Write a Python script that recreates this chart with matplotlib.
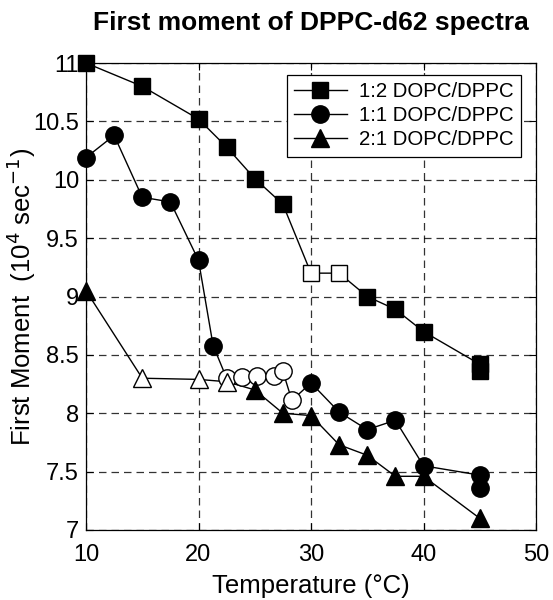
import matplotlib
matplotlib.use("Agg")
import matplotlib.pyplot as plt
import numpy as np

plt.rcParams['font.family'] = ['Liberation Sans', 'DejaVu Sans']

# Data: temperature (°C), first moment (10^4 sec^-1), open marker flags
sq_x = [10, 15, 20, 22.5, 25, 27.5, 30, 32.5, 35, 37.5, 40, 45, 45]
sq_y = [11.0, 10.80, 10.52, 10.28, 10.01, 9.79, 9.20, 9.20, 9.0, 8.89, 8.70, 8.42, 8.36]
sq_open = [0, 0, 0, 0, 0, 0, 1, 1, 0, 0, 0, 0, 0]

ci_x = [10, 12.5, 15, 17.5, 20, 21.3, 22.5, 23.9, 25.2, 26.7, 27.5, 28.3, 30, 32.5, 35, 37.5, 40, 45, 45]
ci_y = [10.19, 10.38, 9.85, 9.81, 9.31, 8.58, 8.30, 8.31, 8.32, 8.32, 8.36, 8.11, 8.26, 8.01, 7.86, 7.94, 7.55, 7.47, 7.36]
ci_open = [0, 0, 0, 0, 0, 0, 1, 1, 1, 1, 1, 1, 0, 0, 0, 0, 0, 0, 0]

tr_x = [10, 15, 20, 22.5, 25, 27.5, 30, 32.5, 35, 37.5, 40, 45]
tr_y = [9.05, 8.30, 8.29, 8.27, 8.20, 8.0, 7.98, 7.73, 7.64, 7.46, 7.46, 7.10]
tr_open = [0, 1, 1, 1, 0, 0, 0, 0, 0, 0, 0, 0]

labels = ["1:2 DOPC/DPPC", "1:1 DOPC/DPPC", "2:1 DOPC/DPPC"]
x_ticks = [10, 20, 30, 40, 50]
y_ticks = [7, 7.5, 8, 8.5, 9, 9.5, 10, 10.5, 11]
y_ticklabels = ["7", "7.5", "8", "8.5", "9", "9.5", "10", "10.5", "11"]

fig = plt.figure(figsize=(5.53, 6.0), dpi=100)
ax = fig.add_axes([86/553, 1-530/600, 450/553, 467/600])

series = [(sq_x, sq_y, sq_open, 's', 11.5),
          (ci_x, ci_y, ci_open, 'o', 12.5),
          (tr_x, tr_y, tr_open, '^', 12.5)]
handles = []
for (xs, ys, op, mk, ms), lab in zip(series, labels):
    ax.plot(xs, ys, '-', color='black', lw=1.0, zorder=3, clip_on=False)
    xs = np.array(xs); ys = np.array(ys); op = np.array(op, dtype=bool)
    ax.plot(xs[op], ys[op], linestyle='none', marker=mk, ms=ms, mfc='white',
            mec='black', mew=1.0, zorder=4, clip_on=False)
    ax.plot(xs[~op], ys[~op], linestyle='none', marker=mk, ms=ms, mfc='black',
            mec='black', mew=1.0, zorder=5, clip_on=False)
    h, = ax.plot([], [], '-', color='black', lw=1.0, marker=mk, ms=ms,
                 mfc='black', mec='black', label=lab)
    handles.append(h)

ax.set_xlim(10, 50)
ax.set_ylim(7, 11)
ax.set_xticks(x_ticks)
ax.set_yticks(y_ticks)
ax.set_yticklabels(y_ticklabels)
ax.grid(True, color='black', linestyle=(0, (6, 4)), lw=0.9, alpha=0.8)
ax.tick_params(direction='in', top=True, right=True, labelsize=17, length=5,
               width=0.8)
ax.tick_params(axis='x', pad=10)
ax.tick_params(axis='y', pad=5)
for s in ax.spines.values():
    s.set_linewidth(0.9)

ax.set_xlabel("Temperature (°C)", fontsize=18.5, labelpad=6)
ax.set_ylabel("First Moment  (10$^{4}$ sec$^{-1}$)", fontsize=18.5)
ax.yaxis.set_label_coords((38 - 86) / 450, 0.5)
ax.set_title("First moment of DPPC-d62 spectra", fontsize=19,
             fontweight='bold', pad=24)

leg = ax.legend(handles=handles, loc='upper right',
                bbox_to_anchor=((521-86)/450, (530-75)/467), borderaxespad=0,
                fontsize=14.7, frameon=True, fancybox=False, edgecolor='black',
                framealpha=1, handlelength=2.6, handletextpad=0.6,
                borderpad=0.35, labelspacing=0.25)
leg.get_frame().set_linewidth(0.9)

fig.savefig("out.png", dpi=100)
